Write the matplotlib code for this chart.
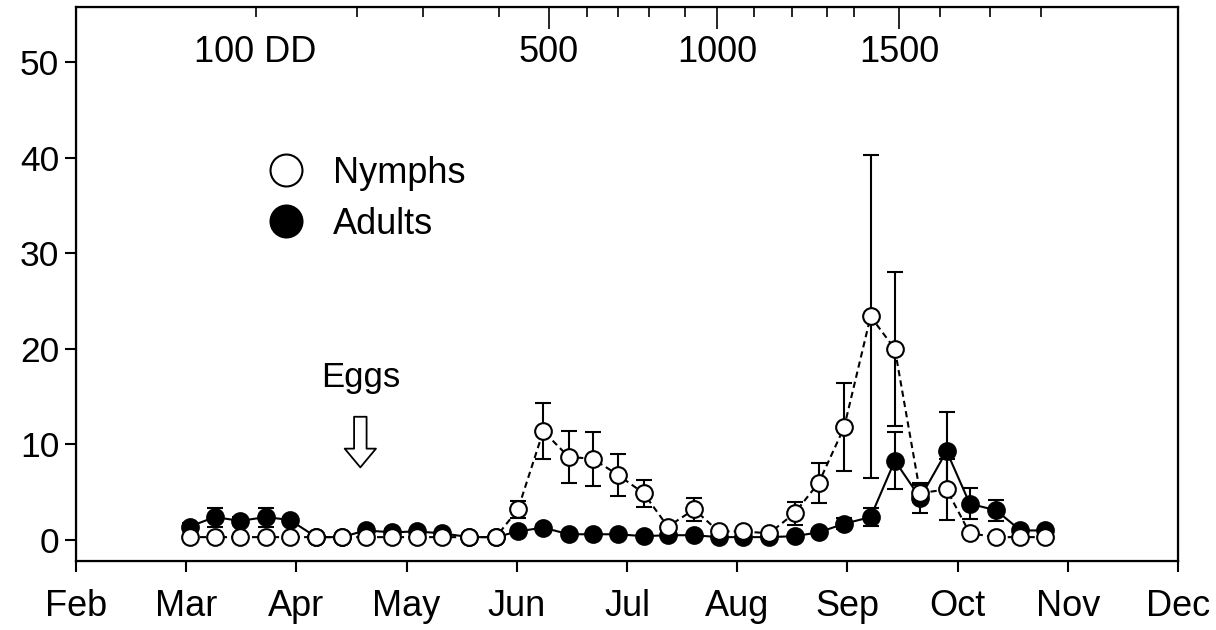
import matplotlib
matplotlib.use("Agg")
import matplotlib.pyplot as plt
from matplotlib.lines import Line2D

plt.rcParams['font.family'] = ['Liberation Sans', 'DejaVu Sans']

# month axis: Feb = 0 ... Dec = 10
months = ['Feb', 'Mar', 'Apr', 'May', 'Jun', 'Jul', 'Aug', 'Sep', 'Oct', 'Nov', 'Dec']

# sampling dates in month units (weekly samples)
sample_t = [1.03, 1.26, 1.49, 1.72, 1.94, 2.18, 2.41, 2.63, 2.87, 3.09, 3.32, 3.57,
            3.81, 4.01, 4.24, 4.47, 4.69, 4.92, 5.15, 5.37, 5.61, 5.83, 6.05, 6.29,
            6.52, 6.74, 6.97, 7.21, 7.43, 7.66, 7.90, 8.11, 8.35, 8.57, 8.79]

nymphs = [0.3, 0.3, 0.3, 0.3, 0.3, 0.3, 0.3, 0.3, 0.3, 0.3, 0.3, 0.3,
          0.3, 3.2, 11.4, 8.7, 8.5, 6.8, 4.9, 1.4, 3.2, 0.9, 0.9, 0.7,
          2.8, 6.0, 11.8, 23.4, 20.0, 4.9, 5.3, 0.7, 0.3, 0.3, 0.3]
nymphs_se = [0.1, 0.1, 0.1, 0.1, 0.1, 0.1, 0.1, 0.1, 0.1, 0.1, 0.1, 0.1,
             0.1, 0.9, 2.9, 2.7, 2.8, 2.2, 1.4, 0.3, 1.2, 0.2, 0.2, 0.2,
             1.2, 2.1, 4.6, 16.9, 8.1, 0.9, 3.2, 0.2, 0.1, 0.1, 0.1]

adults = [1.4, 2.4, 2.0, 2.4, 2.1, 0.3, 0.3, 1.0, 0.8, 0.9, 0.7, 0.3,
          0.3, 0.9, 1.3, 0.6, 0.6, 0.6, 0.4, 0.5, 0.5, 0.3, 0.3, 0.3,
          0.4, 0.8, 1.7, 2.4, 8.3, 4.4, 9.3, 3.8, 3.1, 1.0, 1.0]
adults_se = [0.4, 1.0, 0.4, 1.0, 0.3, 0.1, 0.1, 0.3, 0.3, 0.3, 0.2, 0.1,
             0.1, 0.3, 0.3, 0.2, 0.2, 0.2, 0.1, 0.1, 0.1, 0.1, 0.1, 0.1,
             0.1, 0.3, 0.6, 0.9, 3.0, 1.6, 4.1, 1.6, 1.1, 0.3, 0.3]

# degree-day marks (top axis), position in month units
dd_values = [100, 200, 300, 400, 500, 600, 700, 800, 900, 1000, 1100, 1200,
             1300, 1400, 1500, 1600, 1700, 1800]
dd_t = [1.63, 2.55, 3.15, 3.84, 4.29, 4.64, 4.92, 5.20, 5.53, 5.82, 6.15, 6.50,
        6.81, 7.06, 7.47, 7.84, 8.29, 8.76]
dd_labels = {100: '100 DD', 500: '500', 1000: '1000', 1500: '1500'}
dd_major = [500, 1000, 1500]

eggs_t = 2.58

fig = plt.figure(figsize=(12.16, 6.3), dpi=100)
ax = fig.add_axes([0.0625, 0.1095, 0.9063, 0.8795])

ax.errorbar(sample_t, adults, yerr=adults_se, fmt='-o', color='black', lw=1.5,
            ms=12, mfc='black', mec='black', mew=1.5, capsize=6, capthick=1.5,
            elinewidth=1.5, zorder=3)
ax.errorbar(sample_t, nymphs, yerr=nymphs_se, fmt='o', color='black',
            ms=12, mfc='white', mec='black', mew=1.5, capsize=6, capthick=1.5,
            elinewidth=1.5, ls='--', dashes=(3, 2), lw=1.5, zorder=4)

ax.set_xlim(0, 10)
ax.set_ylim(-2.2, 55.8)
ax.set_xticks(range(len(months)))
ax.set_xticklabels(months)
ax.set_yticks([0, 10, 20, 30, 40, 50])
ax.tick_params(axis='both', width=1.5, length=8, direction='out')
ax.tick_params(axis='x', labelsize=26, pad=12)
ax.tick_params(axis='y', labelsize=25.5, pad=4)
for s in ax.spines.values():
    s.set_linewidth(1.6)

# top axis with degree days
ax2 = ax.twiny()
ax2.set_xlim(ax.get_xlim())
ax2.set_xticks([t for t, d in zip(dd_t, dd_values) if d in dd_major])
ax2.set_xticks([t for t, d in zip(dd_t, dd_values) if d not in dd_major], minor=True)
ax2.tick_params(axis='x', which='major', direction='in', length=16, width=1.2,
                labeltop=False)
ax2.tick_params(axis='x', which='minor', direction='in', length=7, width=1.2,
                labeltop=False)
for t, d in zip(dd_t, dd_values):
    if d in dd_labels:
        ax.text(t, 51.0, dd_labels[d], ha='center', va='center', fontsize=26)

# eggs arrow
ax.text(eggs_t, 17.0, 'Eggs', ha='center', va='center', fontsize=25)
ax.annotate('', xy=(eggs_t, 7.6), xytext=(eggs_t, 12.9),
            arrowprops=dict(arrowstyle='simple,head_length=0.9,head_width=1.5,tail_width=0.6',
                            fc='white', ec='black', lw=1.3, shrinkA=0, shrinkB=0,
                            mutation_scale=15))

handles = [Line2D([], [], ls='none', marker='o', ms=23, mfc='white', mec='black', mew=1.5),
           Line2D([], [], ls='none', marker='o', ms=23, mfc='black', mec='black', mew=1.5)]
ax.legend(handles, ['Nymphs', 'Adults'], loc='center left',
          bbox_to_anchor=(0.145, 0.654), frameon=False, fontsize=26,
          handlelength=1.0, handletextpad=0.8, labelspacing=0.45)

fig.savefig('out.png', dpi=100)
